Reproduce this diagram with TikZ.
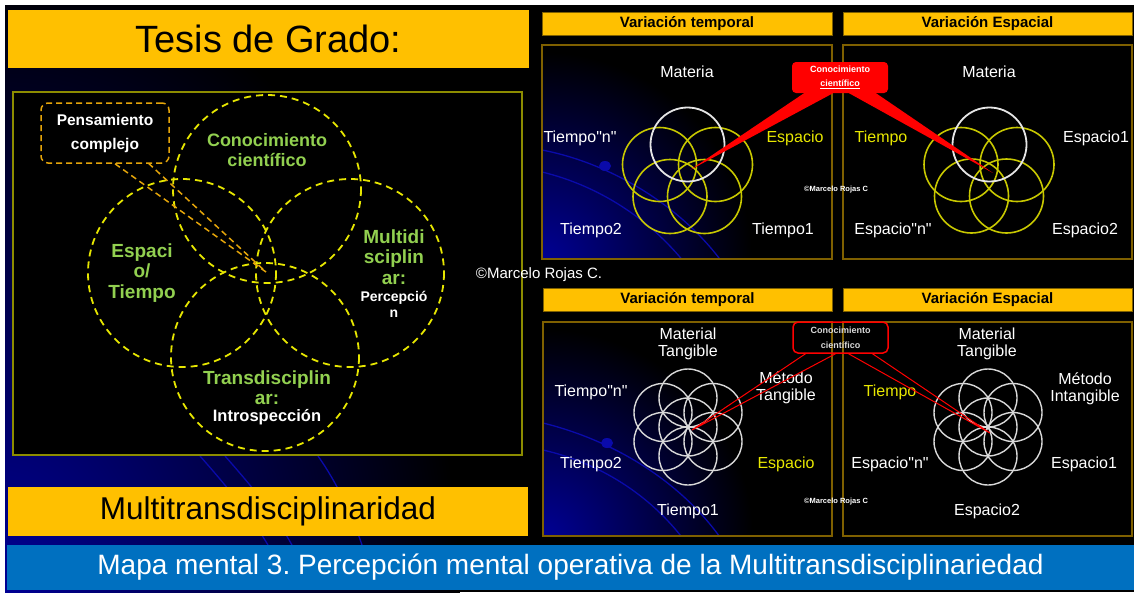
\documentclass[tikz,border=0pt]{standalone}
\usepackage{fontspec}
\setmainfont{Liberation Sans}[Ligatures=TeXOff]
\usetikzlibrary{shadings}
\definecolor{gold}{HTML}{FFC000}
\definecolor{lgreen}{HTML}{92D050}
\definecolor{vennyel}{HTML}{E6E600}
\definecolor{orng}{HTML}{E5A50A}
\definecolor{frameolive}{HTML}{8C8C00}
\definecolor{pborder}{HTML}{7F6000}
\definecolor{cyell}{HTML}{C8C800}
\definecolor{tyell}{HTML}{E8E800}
\definecolor{bannerblue}{HTML}{0070C0}
\definecolor{navyb}{RGB}{0,0,150}
\definecolor{arcb}{RGB}{10,10,170}
\newcommand\fsz[2]{\fontsize{#1}{#2}\selectfont}
\frenchspacing
\begin{document}
\begin{tikzpicture}[x=1pt,y=-1pt,
 every node/.style={inner sep=0pt},
 hdr/.style={fill=gold, draw=pborder, line width=0.8pt, minimum height=23pt, font=\bfseries\fsz{15}{17}},
 pframe/.style={draw=pborder, line width=1.2pt},
 lbl/.style={text=white, font=\fsz{16}{17.5}, align=center},
 ylbl/.style={lbl, text=tyell},
 glbl/.style={text=lgreen, font=\bfseries\fsz{19}{20.5}, align=center},
 wlbl/.style={text=white, align=center},
 venn/.style={draw=vennyel, line width=1.8pt, dash pattern=on 7pt off 5pt},
 ocall/.style={draw=orng, line width=1.5pt, dash pattern=on 6pt off 4pt},
 wcirc/.style={draw=white!90!black, line width=1.8pt},
 ycirc/.style={draw=cyell, line width=1.6pt},
 fcirc/.style={draw=white!85!black, line width=1.4pt},
 bluearc/.style={draw=arcb, line width=1.3pt},
 tinylbl/.style={text=white, font=\bfseries\fsz{7.5}{8}},
]
\useasboundingbox (0,0) rectangle (1134,592);
% ---------- background ----------
\fill[white] (0,0) rectangle (1134,592);
\fill[black] (5,5) rectangle (1134,592);
\begin{scope}
 \clip (5,5) rectangle (1134,592);
 \shade[inner color=navyb, outer color=black] (0,600) ellipse (460 and 640);
 \draw[bluearc] (200,456) .. controls (230,490) and (250,515) .. (268,545);
 \draw[bluearc] (225,456) .. controls (255,490) and (275,515) .. (292,545);
 \draw[bluearc] (318,456) .. controls (335,480) and (350,510) .. (362,545);
\end{scope}
% ---------- left part ----------
\node[fill=gold, minimum width=521pt, minimum height=58pt, font=\fsz{38}{40}] (title) at (268.5,39) {Tesis de Grado:};
\node[draw=frameolive, fill=black, line width=1.5pt, minimum width=509pt, minimum height=363pt] (lp) at (267.5,273.5) {};
\draw[venn] (267,189) circle (94);
\draw[venn] (182,273) circle (94);
\draw[venn] (350,273) circle (94);
\draw[venn] (265,357) circle (94);
\node[glbl, font=\bfseries\fsz{18}{20}] (lc) at (267,150) {Conocimiento\\científico};
\node[glbl] (le) at (142,273) {Espaci\\o/\\Tiempo};
\node[glbl] (lm) at (394,257) {Multidi\\sciplin\\ar:};
\node[wlbl, font=\bfseries\fsz{14}{16}] (lm2) at (394,304) {Percepció\\n};
\node[glbl] (lt) at (267,387.5) {Transdisciplin\\ar:};
\node[wlbl, font=\bfseries\fsz{16.5}{18}] (lt2) at (267,417) {Introspección};
\node[ocall, rounded corners=7pt, minimum width=128pt, minimum height=60pt, wlbl, font=\bfseries\fsz{15.5}{24}] (pc) at (105,133) {Pensamiento\\complejo};
\coordinate (pctip) at (266,272);
\draw[ocall] ([xshift=10pt]pc.south) -- (pctip) -- ([xshift=44pt]pc.south);
\node[text=white, font=\fsz{15}{16}] (cr) at (539,275) {©Marcelo Rojas C.};
\node[fill=gold, minimum width=520pt, minimum height=49pt, font=\fsz{31.5}{33}] (mt) at (268,511.5) {Multitransdisciplinaridad};
\node[fill=bannerblue, minimum width=1127pt, minimum height=45pt, text=white, font=\fsz{28}{30}] (bn) at (570.5,567.5) {Mapa mental 3. Percepción mental operativa de la Multitransdisciplinariedad};
% ---------- right panels: headers ----------
\node[hdr, minimum width=290pt] (h1) at (687,23.5) {Variación temporal};
\node[hdr, minimum width=289pt] (h2) at (987.5,23.5) {Variación Espacial};
\node[hdr, minimum width=289pt] (h3) at (687.5,300) {Variación temporal};
\node[hdr, minimum width=289pt] (h4) at (987.5,300) {Variación Espacial};
% ---------- panel 1 ----------
\fill[black] (542,45) rectangle (832,259);
\begin{scope}
 \clip (542,45) rectangle (832,259);
 \shade[inner color=navyb, outer color=black] (542,262) circle (210);
 \draw[bluearc] (542,150) .. controls (610,163) and (680,205) .. (722,262);
 \draw[bluearc] (542,172) .. controls (600,186) and (650,220) .. (684,262);
 \fill[arcb] (605,166) ellipse (6 and 5);
\end{scope}
\draw[pframe] (542,45) rectangle (832,259);
\draw[ycirc] (659.5,164.5) circle (37);
\draw[ycirc] (715.5,164.5) circle (37);
\draw[ycirc] (670,196.5) circle (37);
\draw[ycirc] (704.5,196.5) circle (37);
\draw[wcirc] (687.5,144.5) circle (37);
\node[lbl] (a1) at (687,72) {Materia};
\node[lbl] (a2) at (580,138) {Tiempo"n"};
\node[ylbl] (a3) at (795,138) {Espacio};
\node[lbl] (a4) at (591,230) {Tiempo2};
\node[lbl] (a5) at (783,230) {Tiempo1};
% ---------- panel 2 ----------
\fill[black] (843,45) rectangle (1132,259);
\draw[pframe] (843,45) rectangle (1132,259);
\draw[ycirc] (961,164.5) circle (37);
\draw[ycirc] (1017,164.5) circle (37);
\draw[ycirc] (971.5,196) circle (37);
\draw[ycirc] (1006.5,196) circle (37);
\draw[wcirc] (989.5,144.5) circle (37);
\node[lbl] (b1) at (989,72) {Materia};
\node[ylbl] (b2) at (881,138) {Tiempo};
\node[lbl] (b3) at (1096,138) {Espacio1};
\node[lbl] (b4) at (893,230) {Espacio"n"};
\node[lbl] (b5) at (1085,230) {Espacio2};
% ---------- panel 3 ----------
\fill[black] (543,322) rectangle (832,536);
\begin{scope}
 \clip (543,322) rectangle (832,536);
 \shade[inner color=navyb, outer color=black] (543,539) circle (210);
 \draw[bluearc] (543,423) .. controls (612,440) and (680,480) .. (722,540);
 \draw[bluearc] (543,450) .. controls (600,463) and (650,495) .. (684,540);
 \fill[arcb] (607,443) ellipse (6 and 5);
\end{scope}
\draw[pframe] (543,322) rectangle (832,536);
\foreach \p in {(688,398),(688,456),(663,412.5),(713,412.5),(663,441.5),(713,441.5),(688,427)}
  \draw[fcirc] \p circle (29);
\node[lbl] (c1) at (688,344) {Material\\Tangible};
\node[lbl] (c2) at (591,392) {Tiempo"n"};
\node[lbl] (c3) at (786,388) {Método\\Tangible};
\node[lbl] (c4) at (591,464) {Tiempo2};
\node[ylbl] (c5) at (786,464) {Espacio};
\node[lbl] (c6) at (688,511) {Tiempo1};
% ---------- panel 4 ----------
\fill[black] (843,322) rectangle (1132,536);
\draw[pframe] (843,322) rectangle (1132,536);
\foreach \p in {(988,398),(988,456),(963,412.5),(1013,412.5),(963,441.5),(1013,441.5),(988,427)}
  \draw[fcirc] \p circle (29);
\node[lbl] (d1) at (987,344) {Material\\Tangible};
\node[ylbl] (d2) at (890,392) {Tiempo};
\node[lbl] (d3) at (1085,389) {Método\\Intangible};
\node[lbl] (d4) at (890,464) {Espacio"n"};
\node[lbl] (d5) at (1084,464) {Espacio1};
\node[lbl] (d6) at (987,511) {Espacio2};
% ---------- callouts ----------
\coordinate (t1) at (690,170);
\coordinate (t2) at (993,173);
\node[fill=red, rounded corners=4pt, minimum width=96pt, minimum height=31pt, text=white, font=\bfseries\fsz{9}{14}, align=center] (cc1) at (840,77.5) {Conocimiento\\\underline{científico}};
\fill[red] ([xshift=-36pt]cc1.south) -- (t1) -- ([xshift=-7pt]cc1.south) -- cycle;
\fill[red] ([xshift=9pt]cc1.south) -- (t2) -- ([xshift=36pt]cc1.south) -- cycle;
\node[tinylbl] (cp1) at (836,190) {©Marcelo Rojas C};
\coordinate (t3) at (692,430);
\coordinate (t4) at (990,433);
\node[draw=red, line width=1.5pt, rounded corners=5pt, minimum width=95pt, minimum height=31pt, text=white!85!black, font=\bfseries\fsz{9}{15}, align=center] (cc2) at (840.5,337.5) {Conocimiento\\científico};
\draw[red, line width=1pt] ([xshift=-35pt]cc2.south) -- (t3) -- ([xshift=-5pt]cc2.south);
\draw[red, line width=1pt] ([xshift=8pt]cc2.south) -- (t4) -- ([xshift=32pt]cc2.south);
\node[tinylbl] (cp2) at (836,502) {©Marcelo Rojas C};
\end{tikzpicture}
\end{document}
